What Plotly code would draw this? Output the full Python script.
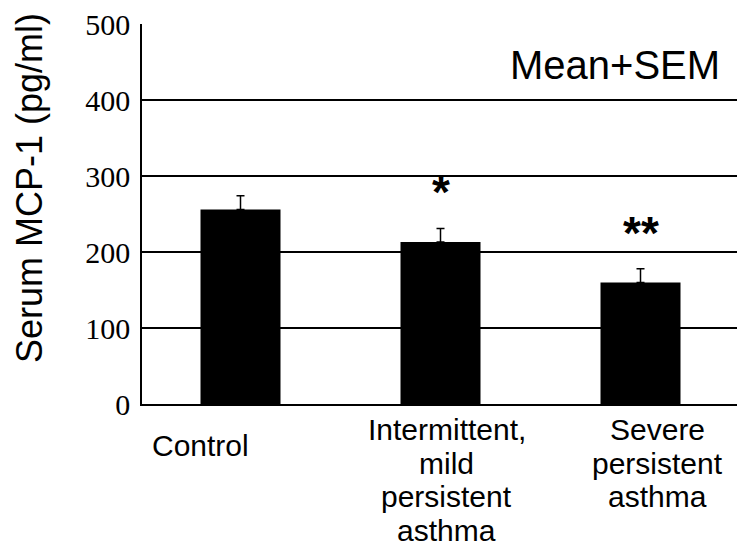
import plotly.graph_objects as go

categories = ["Control", "Intermittent,\nmild\npersistent\nasthma", "Severe\npersistent\nasthma"]
means = [256, 213, 160]
sems = [18, 18, 18]
signif = ["", "*", "**"]
y_ticks = [0, 100, 200, 300, 400, 500]
y_title = "Serum MCP-1 (pg/ml)"
note = "Mean+SEM"

# layout-only offsets for the category labels (pixels)
label_dx = [-40, 6, 17]
label_first_baseline = [456, 440, 440]
line_gap = 33.6
label_size = 30

SANS = "Liberation Sans, Arial, sans-serif"
SERIF = "Liberation Serif, Times New Roman, serif"

xs = list(range(len(categories)))
fig = go.Figure()
fig.add_trace(go.Bar(
    x=xs, y=means, width=0.4,
    marker=dict(color="black", line=dict(width=0)),
    error_y=dict(type="data", array=sems, arrayminus=[0] * len(sems), symmetric=False,
                 color="black", thickness=1.5, width=4),
    showlegend=False, hoverinfo="skip",
))

ann = []
# category labels, one annotation per line
for i, lab in enumerate(categories):
    for j, line in enumerate(lab.split("\n")):
        baseline = label_first_baseline[i] + j * line_gap
        ann.append(dict(x=i, xref="x", y=0, yref="paper", text=line, showarrow=False,
                        xanchor="center", yanchor="middle", xshift=label_dx[i],
                        yshift=-(baseline - 0.35 * label_size - 404),
                        font=dict(family=SANS, size=label_size, color="black")))
# significance marks
for i, s in enumerate(signif):
    if s:
        ann.append(dict(x=i, xref="x", y=means[i] + sems[i], yref="y", text="<b>" + s + "</b>",
                        showarrow=False, xanchor="center", yanchor="bottom", yshift=8,
                        font=dict(family=SANS, size=46, color="black")))
ann.append(dict(x=0.795, xref="paper", y=0.892, yref="paper", text=note, showarrow=False,
                xanchor="center", yanchor="middle",
                font=dict(family=SANS, size=40, color="black")))
ann.append(dict(x=-0.19, xref="paper", y=0.568, yref="paper", text=y_title, showarrow=False,
                textangle=-90, xanchor="center", yanchor="middle",
                font=dict(family=SANS, size=36, color="black")))

fig.update_layout(
    width=737, height=551,
    margin=dict(l=142, r=0, t=24, b=147),
    paper_bgcolor="white", plot_bgcolor="white",
    annotations=ann,
    xaxis=dict(range=[-0.4925, 2.4825], showticklabels=False, showgrid=False, zeroline=False,
               showline=True, linecolor="black", linewidth=1.5, ticks=""),
    yaxis=dict(range=[0, 500], tickvals=y_ticks, ticktext=[str(v) for v in y_ticks],
               showgrid=True, gridcolor="black", gridwidth=1.5, zeroline=False,
               showline=True, linecolor="black", linewidth=1.5, ticks="",
               ticklabelstandoff=4,
               tickfont=dict(family=SERIF, size=30, color="black")),
)

fig.write_html("out.html")
